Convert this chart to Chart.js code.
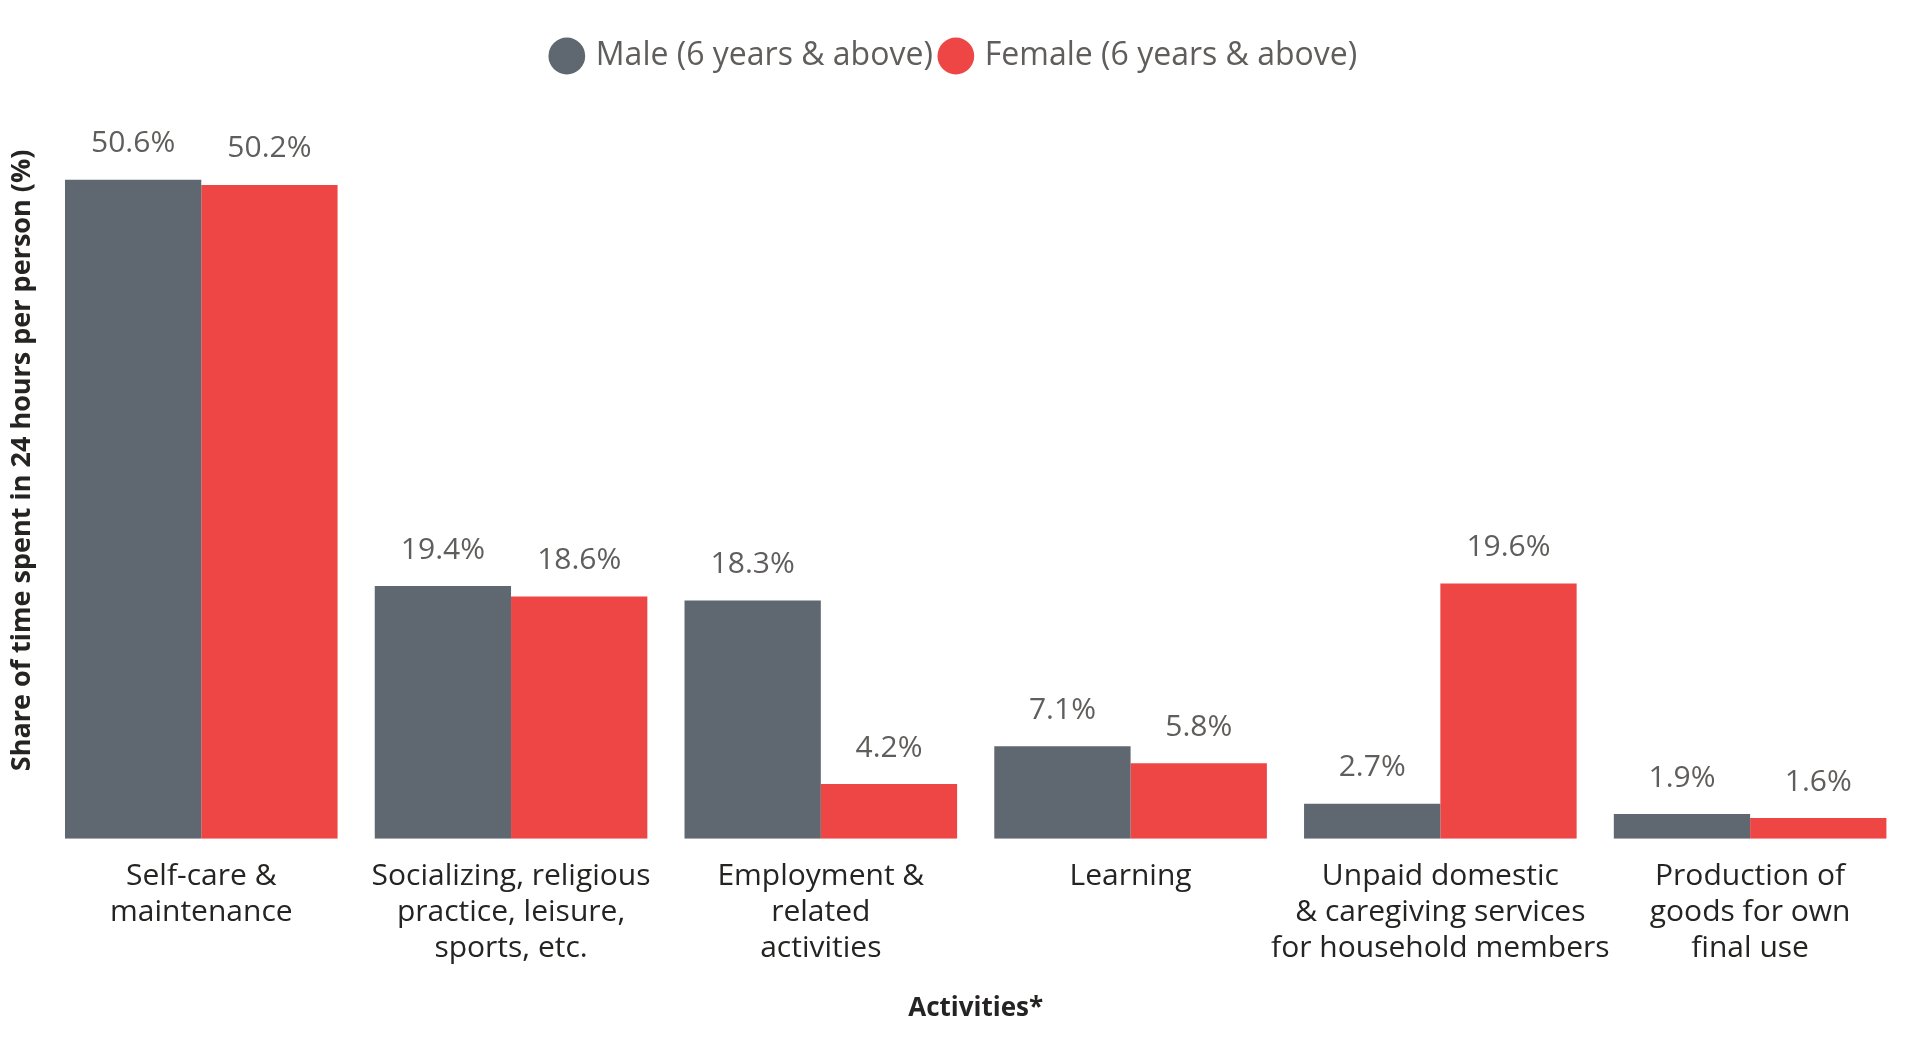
<!DOCTYPE html>
<html>
<head>
<meta charset="utf-8">
<script src="https://cdn.jsdelivr.net/npm/chart.js@4.4.1/dist/chart.umd.min.js"></script>
<style>
  html, body { margin: 0; padding: 0; background: #fff; }
  #wrap { width: 1905px; height: 1042px; }
</style>
</head>
<body>
<div id="wrap"><canvas id="grafico"></canvas></div>
<script>
// categorias e valores (%)
var activities = [
    ['Self-care &', 'maintenance'],
    ['Socializing, religious', 'practice, leisure,', 'sports, etc.'],
    ['Employment &', 'related', 'activities'],
    'Learning',
    ['Unpaid domestic', '& caregiving services', 'for household members'],
    ['Production of', 'goods for own', 'final use']
];
var maleShare = [50.6, 19.4, 18.3, 7.1, 2.7, 1.9];
var femaleShare = [50.2, 18.6, 4.2, 5.8, 19.6, 1.6];

var fonte = "'Open Sans', 'Noto Sans', sans-serif";

// rotulos em cima das barras
var rotulos = {
    id: 'rotulos',
    afterDatasetsDraw: function (chart) {
        var ctx = chart.ctx;
        ctx.save();
        ctx.font = '30px ' + fonte;
        ctx.fillStyle = '#605E5C';
        ctx.textAlign = 'center';
        ctx.textBaseline = 'bottom';
        chart.data.datasets.forEach(function (ds, i) {
            chart.getDatasetMeta(i).data.forEach(function (bar, j) {
                ctx.fillText(ds.data[j].toFixed(1) + '%', bar.x, bar.y - 21);
            });
        });
        ctx.restore();
    }
};

var ctx = document.getElementById('grafico');
var chartGraph = new Chart(ctx, {
    type: 'bar',
    data: {
        labels: activities,
        datasets: [{
            label: 'Male (6 years & above)',
            data: maleShare,
            backgroundColor: '#5F6770',
            borderWidth: 0
        }, {
            label: 'Female (6 years & above)',
            data: femaleShare,
            backgroundColor: '#EE4645',
            borderWidth: 0
        }]
    },
    options: {
        responsive: true,
        maintainAspectRatio: false,
        animation: false,
        layout: { padding: { top: 30, right: 0, left: 6, bottom: 14 } },
        datasets: {
            bar: { categoryPercentage: 0.88, barPercentage: 1.0 }
        },
        plugins: {
            legend: {
                position: 'top',
                labels: {
                    usePointStyle: true,
                    pointStyle: 'circle',
                    boxWidth: 26,
                    boxHeight: 26,
                    padding: 10,
                    color: '#605E5C',
                    font: { family: fonte, size: 32 }
                }
            },
            tooltip: { enabled: false }
        },
        scales: {
            x: {
                grid: { display: false },
                border: { display: false },
                ticks: {
                    color: '#252423',
                    padding: 12,
                    maxRotation: 0,
                    autoSkip: false,
                    font: { family: fonte, size: 30, lineHeight: 1.2 }
                },
                title: {
                    display: true,
                    text: 'Activities*',
                    color: '#252423',
                    padding: { top: 14 },
                    font: { family: fonte, size: 26, weight: 'bold' }
                }
            },
            y: {
                min: 0,
                max: 58.1,
                grid: { display: false },
                border: { display: false },
                ticks: { display: false },
                title: {
                    display: true,
                    text: 'Share of time spent in 24 hours per person (%)',
                    color: '#252423',
                    padding: 0,
                    font: { family: fonte, size: 27, weight: 'bold' }
                }
            }
        }
    },
    plugins: [rotulos]
});
</script>
</body>
</html>
